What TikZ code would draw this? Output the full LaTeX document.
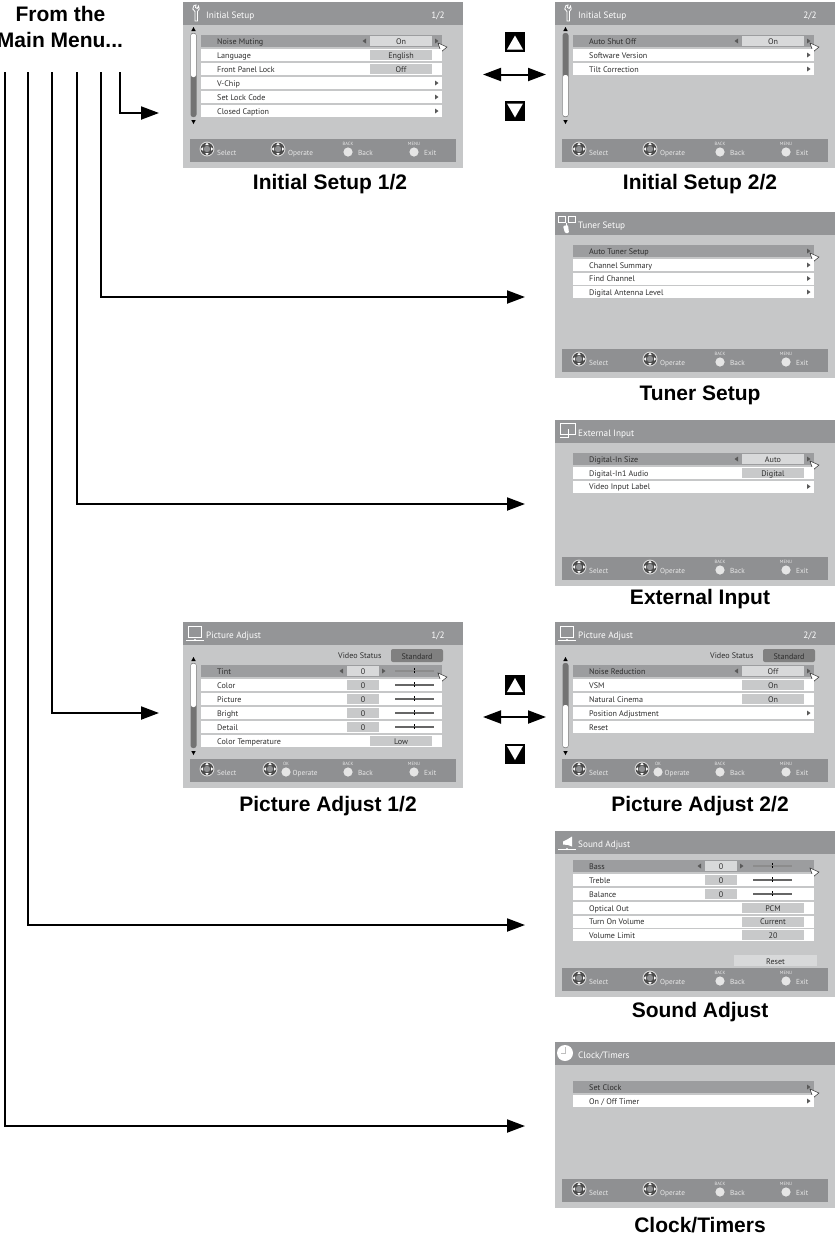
\documentclass[tikz,border=0pt]{standalone}
\usepackage{fontspec}
\setmainfont{Liberation Sans}
\newfontfamily\scrfont{PT Sans}
\usetikzlibrary{arrows.meta}
\definecolor{panelc}{HTML}{C6C7C8}
\definecolor{barc}{HTML}{949597}
\definecolor{footc}{HTML}{8F9092}
\definecolor{hic}{HTML}{9C9D9F}
\definecolor{valc}{HTML}{C8C9CA}
\definecolor{valhi}{HTML}{D8D9DA}
\definecolor{inkc}{HTML}{2E2E2E}
\definecolor{footink}{HTML}{E8E8E8}
\newcount\nid
\newcommand\tx[4]{\global\advance\nid by 1 \node[#1] (t\the\nid) at (#2,#3) {#4};}
\tikzset{
 panel/.style={fill=panelc,minimum width=280pt,minimum height=166pt,inner sep=0pt,anchor=north west},
 caption/.style={font=\bfseries\fontsize{21}{23}\selectfont,text=black,inner sep=0pt},
 rowtxt/.style={font=\scrfont\fontsize{8.1}{9}\selectfont,text=inkc,anchor=base west,inner sep=0pt},
 valtxt/.style={font=\scrfont\fontsize{8.1}{9}\selectfont,text=inkc,anchor=base,inner sep=0pt},
 titletxt/.style={font=\scrfont\fontsize{9.2}{10}\selectfont,text=white,anchor=base west,inner sep=0pt},
 pagetxt/.style={font=\scrfont\fontsize{9.2}{10}\selectfont,text=white,anchor=base,inner sep=0pt},
 foottxt/.style={font=\scrfont\fontsize{7.3}{8}\selectfont,text=footink,anchor=base west,inner sep=0pt},
 tinytxt/.style={font=\scrfont\fontsize{4.6}{5}\selectfont,text=footink,anchor=base,inner sep=0pt},
 flow/.style={line width=2pt,-{Triangle[length=18pt,width=13pt]}},
 both/.style={line width=2pt,{Triangle[length=18pt,width=13pt]}-{Triangle[length=18pt,width=13pt]}},
 keybox/.style={fill=black,minimum width=20pt,minimum height=20pt,inner sep=0pt},
 iconline/.style={draw=white,line width=.8pt},
}
% top bar and footer
\newcommand\basescreen[1]{%
 \fill[barc] (0,0) rectangle (280,23);
 \tx{titletxt}{23}{16}{#1}
 \fill[footc] (7,137) rectangle (273,160);
}
\newcommand\dpad[1]{%
 \begin{scope}[shift={(#1,147)}]
  \fill[white!85!black] (0,0) circle (7.4);
  \fill[black!70] (0,0) circle (6.3);
  \fill[footc] (0,0) circle (3.2);
  \foreach \a in {0,90,180,270}{\fill[white,rotate=\a] (4,-1.8) -- (6.3,0) -- (4,1.8) -- cycle;}
 \end{scope}}
\newcommand\okbtn[3]{% circle x, tiny label, tiny x
 \fill[white!90!black] (#1,150) circle (4.6);
 \tx{tinytxt}{#3}{143}{#2}}
\newcommand\footstd{%
 \dpad{24}\tx{foottxt}{34}{153}{Select}
 \dpad{95}\tx{foottxt}{105}{153}{Operate}
 \okbtn{165}{BACK}{165}\tx{foottxt}{175}{153}{Back}
 \okbtn{231}{MENU}{231}\tx{foottxt}{241}{153}{Exit}}
\newcommand\footpic{%
 \dpad{24}\tx{foottxt}{34}{153}{Select}
 \dpad{87}\okbtn{103}{OK}{103}\tx{foottxt}{109.5}{153}{Operate}
 \okbtn{165}{BACK}{165}\tx{foottxt}{175}{153}{Back}
 \okbtn{231}{MENU}{231}\tx{foottxt}{241}{153}{Exit}}
% rows: top, label
\newcommand\rw[2]{\fill[white] (18,#1) rectangle (259,#1+12);\tx{rowtxt}{34}{#1+9}{#2}}
\newcommand\hrw[2]{\fill[hic] (18,#1) rectangle (259,#1+12);\tx{rowtxt}{34}{#1+9}{#2}
 \fill[white] (255,#1+8) -- (264,#1+12) -- (258,#1+17) -- cycle;
 \draw[inkc,line width=.5pt] (255,#1+8) -- (264,#1+12) -- (258,#1+17) -- cycle;}
\newcommand\rtri[2]{\fill[black!65] (#1,#2+3.5) -- (#1+3.5,#2+6) -- (#1,#2+8.5) -- cycle;}
\newcommand\ltri[2]{\fill[black!65] (#1,#2+3.5) -- (#1-3.5,#2+6) -- (#1,#2+8.5) -- cycle;}
\newcommand\val[2]{\fill[valc] (187,#1+1) rectangle (249,#1+11);\tx{valtxt}{218}{#1+9}{#2}}
\newcommand\hval[2]{\fill[valhi] (187,#1+1) rectangle (249,#1+11);\tx{valtxt}{218}{#1+9}{#2}
 \ltri{183}{#1}\rtri{252}{#1}}
% slider: top, x offset, value
\newcommand\slid[3]{\fill[valc] (#2,#1+1) rectangle (#2+32,#1+11);\tx{valtxt}{#2+16}{#1+9}{#3}
 \draw[black!60,line width=1.2pt] (#2+48,#1+6) -- (#2+87,#1+6);
 \fill[black] (#2+66.5,#1+2.5) rectangle (#2+67.5,#1+4.5);\fill[black] (#2+66.5,#1+5.5) rectangle (#2+67.5,#1+7.5);}
\newcommand\hslid[3]{\fill[valhi] (#2,#1+1) rectangle (#2+32,#1+11);\tx{valtxt}{#2+16}{#1+9}{#3}
 \ltri{#2-4}{#1}\rtri{#2+35}{#1}
 \draw[black!45,line width=1.2pt] (#2+48,#1+6) -- (#2+87,#1+6);
 \fill[black] (#2+66.5,#1+2.5) rectangle (#2+67.5,#1+4.5);\fill[black] (#2+66.5,#1+5.5) rectangle (#2+67.5,#1+7.5);}
% scrollbar: up-arrow top, bar top, bar bottom, split, white first(1)/last(0)
\newcommand\scrollbar[5]{%
 \fill[black] (10.5,#1) -- (8.3,#1+4) -- (12.7,#1+4) -- cycle;
 \fill[black] (10.5,#3+7) -- (8.3,#3+3) -- (12.7,#3+3) -- cycle;
 \fill[black!55,rounded corners=2.5pt] (7.5,#2) rectangle (13.5,#3);
 \ifnum#5=1
  \fill[white,rounded corners=2pt] (8,#2+.7) rectangle (13,#4);
 \else
  \fill[white,rounded corners=2pt] (8,#4) rectangle (13,#3-.7);
 \fi}
\newcommand\videostatus{%
 \tx{rowtxt}{155}{36}{Video Status}
 \fill[black!50,rounded corners=2pt] (208,27) rectangle (260,40);
 \tx{valtxt}{234}{37}{Standard}}
\newcommand\monbase{\draw[iconline] (3,18) -- (21,18);\fill[white] (12,18) circle (1.2);}
\begin{document}
\begin{tikzpicture}[x=1pt,y=-1pt]
\useasboundingbox (0,0) rectangle (836,1235);
\fill[white] (0,0) rectangle (836,1235);

% ---------- Heading
\node[caption] (from) at (60.5,14) {From the};
\node[caption] (mainm) at (60,40) {Main Menu...};

% ---------- Screens
\node[panel] (is1) at (183,2) {};
\begin{scope}[shift={(is1.north west)}]
 \basescreen{Initial Setup}
 \tx{pagetxt}{255}{16}{1/2}
 \draw[iconline] (11,3.5) -- (9.8,7) -- (12,9.5) -- (12,19) -- (14.5,19) -- (14.5,9.5) -- (16.2,7) -- (15.5,4) -- (14.2,6.5) -- (12.5,5.5) -- (13,3) -- cycle;
 \scrollbar{25}{31}{115}{75}{1}
 \hrw{33}{Noise Muting}\hval{33}{On}
 \rw{47}{Language}\val{47}{English}
 \rw{61}{Front Panel Lock}\val{61}{Off}
 \rw{75}{V-Chip}\rtri{252}{75}
 \rw{89}{Set Lock Code}\rtri{252}{89}
 \rw{103}{Closed Caption}\rtri{252}{103}
 \footstd
\end{scope}

\node[panel] (is2) at (555,2) {};
\begin{scope}[shift={(is2.north west)}]
 \basescreen{Initial Setup}
 \tx{pagetxt}{255}{16}{2/2}
 \draw[iconline] (11,3.5) -- (9.8,7) -- (12,9.5) -- (12,19) -- (14.5,19) -- (14.5,9.5) -- (16.2,7) -- (15.5,4) -- (14.2,6.5) -- (12.5,5.5) -- (13,3) -- cycle;
 \scrollbar{25}{31}{115}{73}{0}
 \hrw{33}{Auto Shut Off}\hval{33}{On}
 \rw{47}{Software Version}\rtri{252}{47}
 \rw{61}{Tilt Correction}\rtri{252}{61}
 \footstd
\end{scope}

\node[panel] (ts) at (555,212) {};
\begin{scope}[shift={(ts.north west)}]
 \basescreen{Tuner Setup}
 \draw[iconline] (3.5,4.5) rectangle (10.5,10.5);
 \draw[iconline] (13,4.5) rectangle (20,10.5);
 \draw[iconline] (11.7,10.5) -- (11.7,14);
 \fill[white,rounded corners=1pt] (8,14) -- (13,13) -- (14,21) -- (10,21) -- cycle;
 \hrw{33}{Auto Tuner Setup}\rtri{252}{33}
 \rw{47}{Channel Summary}\rtri{252}{47}
 \rw{60.5}{Find Channel}\rtri{252}{60.5}
 \rw{74}{Digital Antenna Level}\rtri{252}{74}
 \footstd
\end{scope}

\node[panel] (ei) at (555,420) {};
\begin{scope}[shift={(ei.north west)}]
 \basescreen{External Input}
 \draw[iconline] (5,3.5) rectangle (20,14);
 \draw[iconline] (13,9) -- (13,17.5) -- (5,17.5);
 \hrw{33}{Digital-In Size}\hval{33}{Auto}
 \rw{47}{Digital-In1 Audio}\val{47}{Digital}
 \rw{60.5}{Video Input Label}\rtri{252}{60.5}
 \footstd
\end{scope}

\node[panel] (pa1) at (183,622) {};
\begin{scope}[shift={(pa1.north west)}]
 \basescreen{Picture Adjust}
 \tx{pagetxt}{255}{16}{1/2}
 \draw[iconline] (5,4) rectangle (18.5,15.5);\monbase
 \videostatus
 \scrollbar{35}{41}{126}{85}{1}
 \hrw{43}{Tint}\hslid{43}{164}{0}
 \rw{57}{Color}\slid{57}{164}{0}
 \rw{71}{Picture}\slid{71}{164}{0}
 \rw{85}{Bright}\slid{85}{164}{0}
 \rw{99}{Detail}\slid{99}{164}{0}
 \rw{113}{Color Temperature}\val{113}{Low}
 \footpic
\end{scope}

\node[panel] (pa2) at (555,622) {};
\begin{scope}[shift={(pa2.north west)}]
 \basescreen{Picture Adjust}
 \tx{pagetxt}{255}{16}{2/2}
 \draw[iconline] (5,4) rectangle (18.5,15.5);\monbase
 \videostatus
 \scrollbar{35}{41}{126}{83}{0}
 \hrw{43}{Noise Reduction}\hval{43}{Off}
 \rw{57}{VSM}\val{57}{On}
 \rw{71}{Natural Cinema}\val{71}{On}
 \rw{85}{Position Adjustment}\rtri{252}{85}
 \rw{99}{Reset}
 \footpic
\end{scope}

\node[panel] (sa) at (555,831) {};
\begin{scope}[shift={(sa.north west)}]
 \basescreen{Sound Adjust}
 \fill[white] (8,10.5) -- (13,8) -- (17,5.5) -- (17,15.5) -- (13,14) -- (8,13.5) -- cycle;
 \monbase
 \hrw{29}{Bass}\hslid{29}{150}{0}
 \rw{43}{Treble}\slid{43}{150}{0}
 \rw{57}{Balance}\slid{57}{150}{0}
 \rw{71}{Optical Out}\val{71}{PCM}
 \rw{84.5}{Turn On Volume}\val{84.5}{Current}
 \rw{98}{Volume Limit}\val{98}{20}
 \fill[valhi] (179,124) rectangle (262,135);
 \tx{valtxt}{220.5}{133}{Reset}
 \footstd
\end{scope}

\node[panel] (ct) at (555,1042) {};
\begin{scope}[shift={(ct.north west)}]
 \basescreen{Clock/Timers}
 \fill[white] (10,11) circle (8);
 \draw[black!25,line width=.6pt] (10,5) -- (10,11) -- (6,11);
 \hrw{39}{Set Clock}\rtri{252}{39}
 \rw{53}{On / Off Timer}\rtri{252}{53}
 \footstd
\end{scope}

% ---------- Captions
\node[caption] (c1) at (330,184) {Initial Setup 1/2};
\node[caption] (c2) at (700,184) {Initial Setup 2/2};
\node[caption] (c3) at (700,395) {Tuner Setup};
\node[caption] (c4) at (700,599) {External Input};
\node[caption] (c5) at (328,806) {Picture Adjust 1/2};
\node[caption] (c6) at (700,806) {Picture Adjust 2/2};
\node[caption] (c7) at (700,1012) {Sound Adjust};
\node[caption] (c8) at (700,1225) {Clock/Timers};

% ---------- Page keys
\node[keybox] (up1) at (515,42) {};
\fill[white] (515,35.5) -- (523,49.5) -- (507,49.5) -- cycle;
\node[keybox] (dn1) at (515,111) {};
\fill[white] (515,117.5) -- (523,103.5) -- (507,103.5) -- cycle;
\coordinate (la1) at (483,74.5);
\coordinate (lb1) at (546,74.5);
\draw[both] (la1) -- (lb1);

\node[keybox] (up2) at (515,684.5) {};
\fill[white] (515,678) -- (523,692) -- (507,692) -- cycle;
\node[keybox] (dn2) at (515,753.5) {};
\fill[white] (515,760) -- (523,746) -- (507,746) -- cycle;
\coordinate (la2) at (483,717);
\coordinate (lb2) at (546,717);
\draw[both] (la2) -- (lb2);

% ---------- Connectors
\coordinate (m1) at (120,72); \coordinate (e1) at (159,113);
\coordinate (m2) at (101,72); \coordinate (e2) at (525,297);
\coordinate (m3) at (76.5,72); \coordinate (e3) at (525,504);
\coordinate (m4) at (52,72); \coordinate (e4) at (159,713);
\coordinate (m5) at (28,72); \coordinate (e5) at (525,925);
\coordinate (m6) at (5,72); \coordinate (e6) at (525,1126);
\foreach \i in {1,...,6}{\draw[flow] (m\i) |- (e\i);}
\end{tikzpicture}
\end{document}
